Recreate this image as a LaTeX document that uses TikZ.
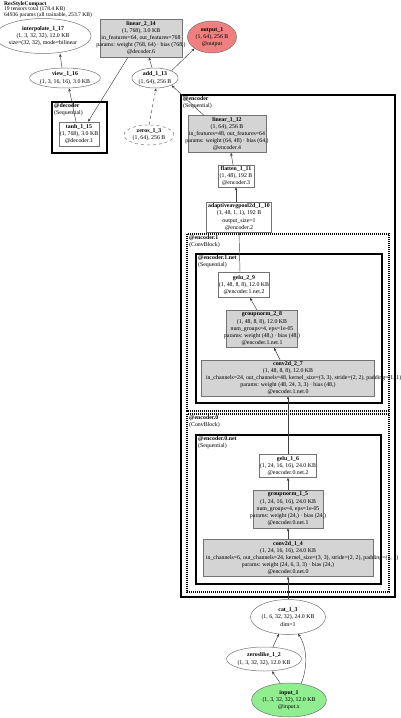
\documentclass[tikz,border=0pt]{standalone}
\usepackage{fontspec}
\setmainfont{Liberation Serif}
\usetikzlibrary{arrows.meta, shapes.geometric, calc}

\definecolor{outred}{HTML}{F08080}
\definecolor{ingreen}{HTML}{90EE90}
\newcommand{\wideline}[1]{\makebox[0pt]{#1}}
\newcommand{\hangline}[1]{\makebox[0pt][l]{\hspace{-82pt}#1}}

\begin{document}
\begin{tikzpicture}[
  x=1pt, y=-1pt,
  >={Stealth[length=3.2pt, width=2.6pt]},
  every node/.style={font=\fontsize{5.85}{7.2}\selectfont, align=center, inner sep=0pt},
  opbox/.style={rectangle, draw=black!55, line width=0.5pt},
  parambox/.style={opbox, fill=black!17},
  tensor/.style={ellipse, draw=black!55, line width=0.5pt},
  modbox/.style={draw=black, line width=2.2pt},
  blockbox/.style={draw=black, line width=1.6pt, dash pattern=on 1.2pt off 0.8pt},
  netbox/.style={draw=black, line width=1.2pt},
  modlabel/.style={anchor=north west, align=left},
  flow/.style={->, draw=black!75, line width=0.45pt},
  constflow/.style={flow, dashed}
]
  \useasboundingbox (0,0) rectangle (400,718);

  % Header
  \node[modlabel, font=\fontsize{5.6}{5.8}\selectfont] (title) at (4,1)
    {\textbf{ResStyleCompact}\\19 tensors total (178.4 KB)\\64936 params (all trainable, 253.7 KB)};

  % Decoder side and outputs
  \node[tensor, minimum width=82, minimum height=35] (interp) at (43,36)
    {\textbf{interpolate\_1\_17}\\(1, 3, 32, 32), 12.0 KB\\size=(32, 32), mode=bilinear};
  \node[parambox, minimum width=82, minimum height=38] (linear2) at (141,38)
    {\textbf{linear\_2\_14}\\(1, 768), 3.0 KB\\\wideline{in\_features=64, out\_features=768}\\\wideline{params: weight (768, 64) · bias (768,)}\\@decoder.6};
  \node[tensor, fill=outred, minimum width=49, minimum height=32] (output) at (212,37)
    {\textbf{output\_1}\\(1, 64), 256 B\\@output};
  \node[tensor, minimum width=61, minimum height=20] (view) at (65,78)
    {\textbf{view\_1\_16}\\(1, 3, 16, 16), 3.0 KB};
  \node[tensor, minimum width=44, minimum height=20] (add) at (155,78)
    {\textbf{add\_1\_13}\\(1, 64), 256 B};

  \draw[modbox] (52,102) rectangle (107,153);
  \node[modlabel] (declabel) at (54,103) {\textbf{@decoder}\\(Sequential)};
  \node[opbox, minimum width=40, minimum height=24] (tanh) at (79,134)
    {\textbf{tanh\_1\_15}\\(1, 768), 3.0 KB\\@decoder.1};
  \node[tensor, dashed, minimum width=50, minimum height=20] (zeros) at (149,135)
    {\textbf{zeros\_1\_3}\\(1, 64), 256 B};

  % Encoder
  \draw[modbox] (181,95) rectangle (395,597);
  \node[modlabel] (enclabel) at (183,96) {\textbf{@encoder}\\(Sequential)};
  \node[parambox, minimum width=78, minimum height=37] (linear1) at (227,134)
    {\textbf{linear\_1\_12}\\(1, 64), 256 B\\\wideline{in\_features=48, out\_features=64}\\\wideline{params: weight (64, 48) · bias (64,)}\\@encoder.4};
  \node[opbox, minimum width=36, minimum height=22] (flatten) at (236,176)
    {\textbf{flatten\_1\_11}\\(1, 48), 192 B\\@encoder.3};
  \node[opbox, minimum width=65, minimum height=30] (pool) at (239,217)
    {\textbf{adaptiveavgpool2d\_1\_10}\\(1, 48, 1, 1), 192 B\\output\_size=1\\@encoder.2};

  \draw[blockbox] (187,234) rectangle (389,411);
  \node[modlabel] (enc1label) at (189,235) {\textbf{@encoder.1}\\(ConvBlock)};
  \draw[netbox] (196,254) rectangle (382,403);
  \node[modlabel] (enc1netlabel) at (198,255) {\textbf{@encoder.1.net}\\(Sequential)};
  \node[opbox, minimum width=51, minimum height=25] (gelu29) at (244,285)
    {\textbf{gelu\_2\_9}\\(1, 48, 8, 8), 12.0 KB\\@encoder.1.net.2};
  \node[parambox, minimum width=71, minimum height=37] (gn28) at (262,329)
    {\textbf{groupnorm\_2\_8}\\(1, 48, 8, 8), 12.0 KB\\num\_groups=4, eps=1e-05\\\wideline{params: weight (48,) · bias (48,)}\\@encoder.1.net.1};
  \node[parambox, minimum width=173, minimum height=36] (conv27) at (288,378)
    {\textbf{conv2d\_2\_7}\\(1, 48, 8, 8), 12.0 KB\\\hangline{in\_channels=24, out\_channels=48, kernel\_size=(3, 3), stride=(2, 2), padding=(1, 1)}\\params: weight (48, 24, 3, 3) · bias (48,)\\@encoder.1.net.0};

  \draw[blockbox] (187,414) rectangle (389,592);
  \node[modlabel] (enc0label) at (189,415) {\textbf{@encoder.0}\\(ConvBlock)};
  \draw[netbox] (196,435) rectangle (381,584);
  \node[modlabel] (enc0netlabel) at (198,436) {\textbf{@encoder.0.net}\\(Sequential)};
  \node[opbox, minimum width=57, minimum height=23] (gelu16) at (288,466)
    {\textbf{gelu\_1\_6}\\(1, 24, 16, 16), 24.0 KB\\@encoder.0.net.2};
  \node[parambox, minimum width=70, minimum height=38] (gn15) at (288,509)
    {\textbf{groupnorm\_1\_5}\\(1, 24, 16, 16), 24.0 KB\\num\_groups=4, eps=1e-05\\\wideline{params: weight (24,) · bias (24,)}\\@encoder.0.net.1};
  \node[parambox, minimum width=170, minimum height=37] (conv14) at (288,558)
    {\textbf{conv2d\_1\_4}\\(1, 24, 16, 16), 24.0 KB\\\hangline{in\_channels=6, out\_channels=24, kernel\_size=(3, 3), stride=(2, 2), padding=(1, 1)}\\params: weight (24, 6, 3, 3) · bias (24,)\\@encoder.0.net.0};

  % Inputs
  \node[tensor, minimum width=75, minimum height=35] (cat) at (288,617)
    {\textbf{cat\_1\_3}\\(1, 6, 32, 32), 24.0 KB\\dim=1};
  \node[tensor, minimum width=74, minimum height=24] (zeroslike) at (264,659)
    {\textbf{zeroslike\_1\_2}\\(1, 3, 32, 32), 12.0 KB};
  \node[tensor, fill=ingreen, minimum width=73, minimum height=34] (input) at (289,700)
    {\textbf{input\_1}\\(1, 3, 32, 32), 12.0 KB\\@input.x};

  % Data flow, bottom to top
  \draw[flow] ($(input.north)+(-9,0)$) -- ($(zeroslike.south)+(8,0)$);
  \draw[flow] ($(input.north)+(12,1)$) .. controls (309,665) and (306,645) .. ($(cat.south)+(10,-1)$);
  \draw[flow] ($(zeroslike.north)+(9,0)$) -- ($(cat.south)+(-9,-1)$);
  \draw[flow] (cat.north) -- (conv14.south);
  \draw[flow] (conv14.north) -- (gn15.south);
  \draw[flow] (gn15.north) -- (gelu16.south);
  \draw[flow] (gelu16.north) -- (conv27.south);
  \draw[flow] ($(conv27.north)+(-8,0)$) -- ($(gn28.south)+(12,0)$);
  \draw[flow] ($(gn28.north)+(-5,0)$) -- ($(gelu29.south)+(6,0)$);
  \draw[flow] ($(gelu29.north)+(-4,0)$) -- (pool.south);
  \draw[flow] ($(pool.north)+(-3,0)$) -- (flatten.south);
  \draw[flow] ($(flatten.north)+(-3,0)$) -- ($(linear1.south)+(4,0)$);
  \draw[flow] ($(linear1.north west)+(16,0)$) -- (add.south east);
  \draw[constflow] (zeros.north) -- ($(add.south)+(1,0)$);
  \draw[flow] ($(add.north)+(-3,0)$) -- ($(linear2.south)+(8,0)$);
  \draw[flow] (add.north east) -- (output.south west);
  \draw[flow] ($(linear2.south)+(-13,0)$) -- ($(tanh.north)+(9,0)$);
  \draw[flow] ($(tanh.north)+(-3,0)$) -- ($(view.south)+(4,0)$);
  \draw[flow] ($(view.north)+(-3,0)$) -- ($(interp.south)+(17,0)$);
\end{tikzpicture}
\end{document}
